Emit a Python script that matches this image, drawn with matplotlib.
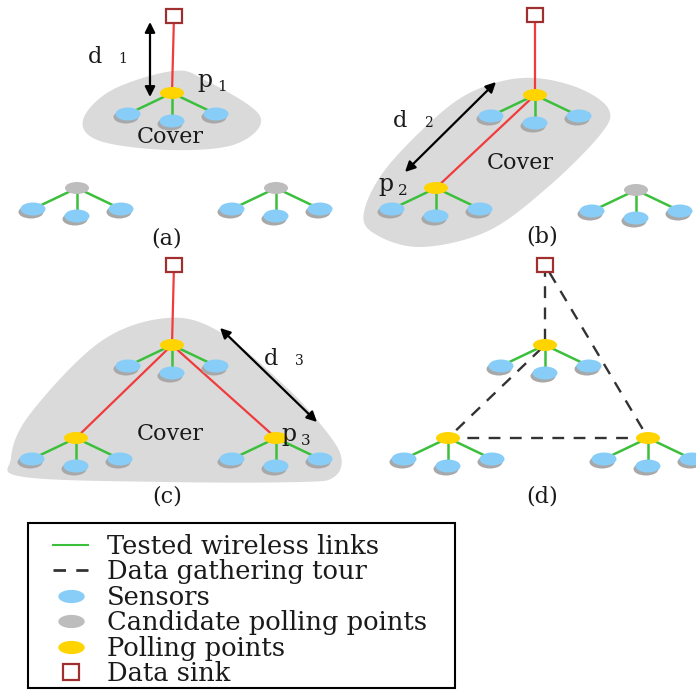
import numpy as np
import matplotlib
matplotlib.use('Agg')
import matplotlib.pyplot as plt
from matplotlib.patches import Ellipse, Rectangle, Polygon
from matplotlib.lines import Line2D

# ---- diagram data (pixel coordinates of the source picture) ----
sinks = [(174, 16), (535, 15), (174, 265), (545, 265)]
polling = [(172, 93), (535, 95), (436, 188), (172, 345), (76, 438), (276, 438),
           (545, 345), (448, 438), (648, 438)]
candidates = [(77, 188), (276, 188), (636, 190)]
sensor_offsets = [(-44, 21), (0, 28), (44, 21)]

# red (sink / polling point) links
red_links = [(sinks[0], polling[0]), (sinks[1], polling[1]), (polling[1], polling[2]),
             (sinks[2], polling[3]), (polling[3], polling[4]), (polling[3], polling[5])]
tour = [sinks[3], polling[6], polling[7], polling[8], sinks[3]]

# cover regions (outline control points)
cover_a = [(173, 71), (205, 80), (260, 116), (236, 144), (170, 150), (100, 141), (83, 120), (112, 90)]
cover_b = [(535, 78), (581, 89), (609, 110), (600, 135), (548, 187), (488, 231), (421, 247),
           (375, 234), (364, 212), (388, 166), (448, 107), (492, 84)]
cover_c = [(167, 318), (220, 332), (284, 385), (322, 426), (341, 456), (334, 477), (300, 482),
           (167, 482), (24, 477), (11, 458), (30, 414), (100, 342)]

legend_labels = ['Tested wireless links', 'Data gathering tour', 'Sensors',
                 'Candidate polling points', 'Polling points', 'Data sink']

C_SENSOR = '#87cdf7'
C_CAND = '#bdbdbd'
C_POLL = '#ffd400'
C_GREEN = '#3cbf3c'
C_RED = '#f03c3c'
C_SINK = '#a03030'
C_COVER = '#dadada'
C_TEXT = '#1a1a1a'
SERIF = 'DejaVu Serif'


def smooth_closed(pts, n=30):
    pts = np.asarray(pts, float)
    N = len(pts)
    out = []
    t = np.linspace(0, 1, n, endpoint=False)[:, None]
    for i in range(N):
        p0, p1, p2, p3 = pts[i - 1], pts[i], pts[(i + 1) % N], pts[(i + 2) % N]
        out.append(0.5 * (2 * p1 + (-p0 + p2) * t + (2 * p0 - 5 * p1 + 4 * p2 - p3) * t ** 2
                          + (-p0 + 3 * p1 - 3 * p2 + p3) * t ** 3))
    return np.vstack(out)


fig = plt.figure(figsize=(6.96, 6.90), dpi=100)
ax = fig.add_axes([0, 0, 1, 1])
ax.set_xlim(0, 696)
ax.set_ylim(690, 0)
ax.axis('off')

for cov in (cover_a, cover_b, cover_c):
    ax.add_patch(Polygon(smooth_closed(cov), closed=True, fc=C_COVER, ec='none', zorder=0))

for a, b in red_links:
    ax.plot([a[0], b[0]], [a[1], b[1]], color=C_RED, lw=1.6, zorder=1)

tx, ty = zip(*tour)
ax.plot(tx, ty, color='#333333', lw=1.7, ls=(0, (5, 4)), zorder=1)


def cluster(hx, hy, color):
    for dx, dy in sensor_offsets:
        ax.plot([hx, hx + dx], [hy, hy + dy], color=C_GREEN, lw=1.8, zorder=2)
    for dx, dy in sensor_offsets:
        ax.add_patch(Ellipse((hx + dx - 2, hy + dy + 3), 25, 13, fc='#a8a8a8', ec='none', zorder=3))
        ax.add_patch(Ellipse((hx + dx, hy + dy), 25, 13, fc=C_SENSOR, ec='none', zorder=4))
    ax.add_patch(Ellipse((hx, hy), 24, 12, fc=color, ec='none', zorder=5))


for hx, hy in polling:
    cluster(hx, hy, C_POLL)
for hx, hy in candidates:
    cluster(hx, hy, C_CAND)

for sx, sy in sinks:
    ax.add_patch(Rectangle((sx - 8, sy - 7), 16, 14, fc='white', ec=C_SINK, lw=1.6, zorder=6))

# distance arrows
arrow_kw = dict(arrowstyle='<|-|>', color='black', lw=1.6, mutation_scale=15, shrinkA=0, shrinkB=0)
for p, q in [((150, 22), (150, 97)), ((496, 82), (405, 172)), ((220, 328), (317, 422))]:
    ax.annotate('', xy=q, xytext=p, arrowprops=arrow_kw, zorder=7)

tk = dict(family=SERIF, color=C_TEXT, ha='center', va='center', zorder=8)
for x, y in [(170, 137), (520, 163), (170, 434)]:
    ax.text(x, y, 'Cover', fontsize=16, **tk)
for s, (x, y) in zip(['(a)', '(b)', '(c)', '(d)'], [(167, 238), (542, 237), (167, 497), (542, 497)]):
    ax.text(x, y, s, fontsize=16, **tk)

# d_i and p_i labels
for (dx, dy), sub in zip([(95, 57), (400, 121), (271, 359)], ['1', '2', '3']):
    ax.text(dx, dy, 'd', fontsize=16, **tk)
    ax.text(dx + 28, dy + 2, sub, fontsize=10, **tk)
for (px, py), sub in zip([(205, 81), (386, 185), (289, 435)], ['1', '2', '3']):
    ax.text(px, py, 'p', fontsize=17, **tk)
    ax.text(px + 17, py + 6, sub, fontsize=11, **tk)

# legend: frame drawn as a box, entries via ax.legend
ax.add_patch(Rectangle((28, 523), 427, 165, fc='white', ec='black', lw=1.5, zorder=9))
ang = np.linspace(0, 2 * np.pi, 60)
ell = np.column_stack([np.cos(ang), 0.5 * np.sin(ang)])
handles = [
    Line2D([], [], color=C_GREEN, lw=1.5),
    Line2D([], [], color='#333333', lw=2, ls=(0, (4.5, 3.7))),
    Line2D([], [], ls='none', marker=ell, ms=19, mfc=C_SENSOR, mec='none'),
    Line2D([], [], ls='none', marker=ell, ms=19, mfc=C_CAND, mec='none'),
    Line2D([], [], ls='none', marker=ell, ms=19, mfc=C_POLL, mec='none'),
    Line2D([], [], ls='none', marker='s', ms=11, mfc='white', mec=C_SINK, mew=1.6),
]
fs = 18.5
fs_px = fs * 100 / 72
leg = ax.legend(handles, legend_labels, loc='upper left',
                bbox_to_anchor=(53 / 696, 1 - 534 / 690), borderaxespad=0, borderpad=0,
                prop={'family': SERIF, 'size': fs}, frameon=False,
                handlelength=35 / fs_px, handletextpad=19 / fs_px,
                labelspacing=0.015, labelcolor=C_TEXT)
leg.set_zorder(10)

fig.savefig('out.png', dpi=100)
